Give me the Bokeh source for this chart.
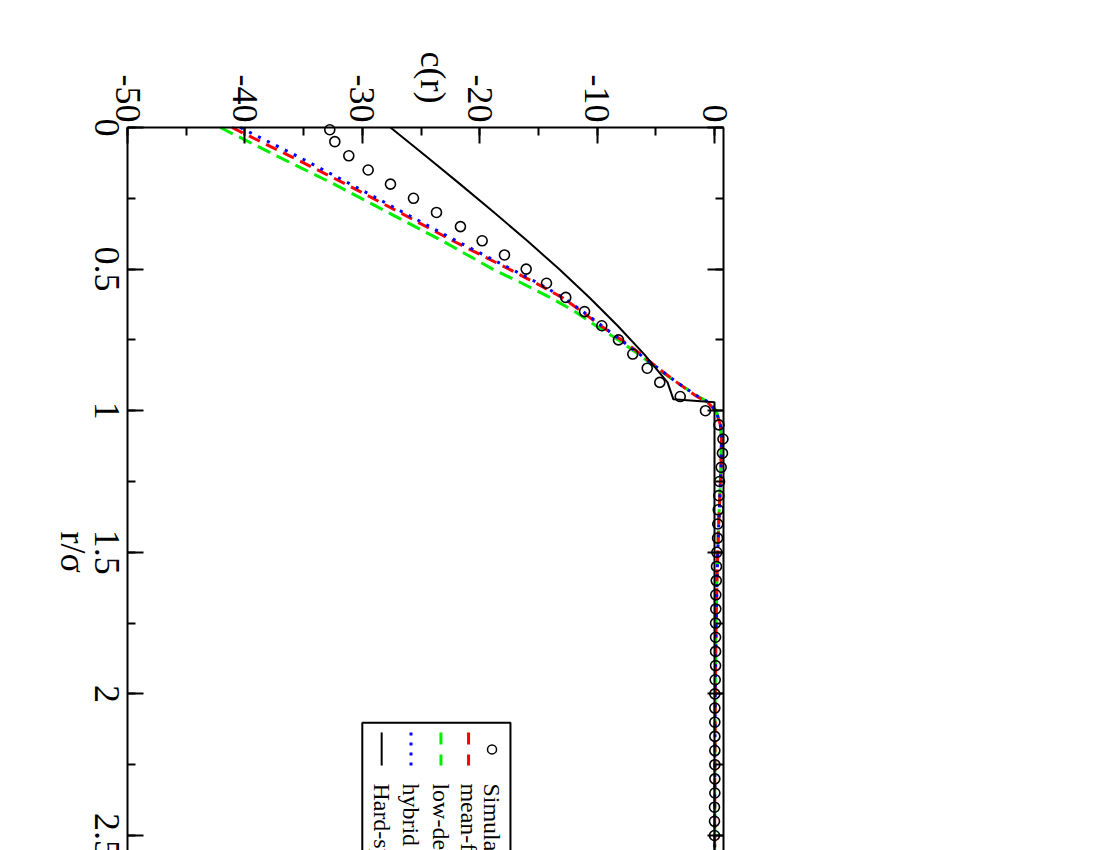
import math
from bokeh.plotting import figure
from bokeh.models import Range1d, LinearAxis, SingleIntervalTicker, CustomJSTickFormatter
from bokeh.core.properties import value
from bokeh.embed import file_html
from bokeh.resources import INLINE

# ---------------- data ----------------
sim_r = [0.008, 0.05, 0.10, 0.15, 0.20, 0.25, 0.30, 0.35, 0.40, 0.45, 0.50,
         0.55, 0.60, 0.65, 0.70, 0.75, 0.80, 0.85, 0.90, 0.95, 1.00,
         1.05, 1.10, 1.15, 1.20, 1.25, 1.30, 1.35, 1.40, 1.45, 1.50, 1.55,
         1.60, 1.65, 1.70, 1.75, 1.80, 1.85, 1.90, 1.95, 2.00, 2.05, 2.10,
         2.15, 2.20, 2.25, 2.30, 2.35, 2.40, 2.45, 2.50]
sim_c = [-32.77, -32.34, -31.15, -29.50, -27.60, -25.64, -23.68, -21.64, -19.79, -17.89, -16.04,
         -14.31, -12.67, -11.07, -9.60, -8.18, -6.96, -5.73, -4.66, -2.92, -0.77,
         0.38, 0.72, 0.68, 0.57, 0.43, 0.37, 0.32, 0.28, 0.26, 0.20, 0.17,
         0.15, 0.11, 0.11, 0.09, 0.09, 0.09, 0.09, 0.06, 0.03, 0.03, 0.03,
         0.03, 0.03, 0.03, 0.03, 0.03, 0.0, 0.0, 0.0]

th_r = [0.0, 0.1, 0.2, 0.3, 0.4, 0.5, 0.55, 0.6, 0.65, 0.7, 0.75, 0.8, 0.85, 0.9, 0.95, 0.97,
        1.0, 1.05, 1.1, 1.2, 1.3, 1.4, 1.5, 1.6, 1.8, 2.0, 2.2, 2.4, 2.6]
meanfield_c = [-41.1, -36.2, -31.4, -26.8, -22.3, -17.5, -15.2, -13.0, -11.3, -9.7, -7.9, -6.3, -4.8, -3.2, -1.5, -0.6,
               0.1, 0.5, 0.6, 0.55, 0.46, 0.36, 0.28, 0.21, 0.12, 0.07, 0.04, 0.02, 0.01]
lowdens_c = [-42.1, -37.3, -32.4, -27.8, -23.2, -18.9, -16.4, -14.0, -11.9, -10.1, -8.2, -6.5, -4.9, -3.2, -1.4, -0.5,
             0.15, 0.5, 0.58, 0.53, 0.45, 0.35, 0.27, 0.2, 0.11, 0.06, 0.03, 0.02, 0.01]
hybrid_c = [-40.4, -35.6, -31.0, -26.5, -22.0, -17.3, -15.0, -12.9, -11.2, -9.6, -8.0, -6.4, -4.8, -3.2, -1.4, -0.5,
            0.12, 0.5, 0.6, 0.55, 0.46, 0.36, 0.28, 0.21, 0.12, 0.07, 0.04, 0.02, 0.01]

hs_r = [0.0, 0.1, 0.2, 0.3, 0.4, 0.5, 0.6, 0.7, 0.8, 0.9, 0.96, 0.97, 1.5, 2.0, 2.6]
hs_c = [-27.6, -24.62, -21.67, -18.77, -15.95, -13.24, -10.66, -8.25, -6.0, -4.0, -3.5, 0.0, 0.0, 0.0, 0.0]

legend_labels = ["Simulation", "mean-field", "low-density", "hybrid", "Hard-sphere"]
y_tick_values = [0.0, 0.5, 1.0, 1.5, 2.0, 2.5]
y_tick_labels = ["0", "0.5", "1", "1.5", "2", "2.5"]
x_title = "r/σ"
y_title = "c(r)"

FONT = "Liberation Serif"
TICK_FS = "36px"

# plot box in data units: c from -50 to 0.77, r from 0 (top) downwards
C_MIN, C_MAX, R_MIN = -50.0, 0.77, 0.0
PX_PER_C, PX_PER_R = 11.74, 283.2
W, H, OX, OY = 1092, 850, 127, 127   # canvas size, position of the plot corner

x_start = C_MIN - OX / PX_PER_C
x_end = x_start + W / PX_PER_C
y_top = R_MIN - OY / PX_PER_R
y_bottom = y_top + H / PX_PER_R

p = figure(width=W, height=H,
           x_range=Range1d(x_start, x_end), y_range=Range1d(y_bottom, y_top),
           x_axis_type=None, y_axis_type=None,
           output_backend="svg", toolbar_location=None,
           min_border_left=0, min_border_top=0, min_border_right=0, min_border_bottom=0)
p.outline_line_color = None
p.grid.visible = False
p.background_fill_color = "white"
p.border_fill_color = "white"

xt = SingleIntervalTicker(interval=10, num_minor_ticks=2)
yt = SingleIntervalTicker(interval=0.5, num_minor_ticks=2)
num_fmt = CustomJSTickFormatter(code="return String(Number(tick.toFixed(3)));")
blank = CustomJSTickFormatter(code="return '';")

top_ax = LinearAxis(ticker=xt, formatter=num_fmt, fixed_location=R_MIN, bounds=(C_MIN, C_MAX))
left_ax = LinearAxis(ticker=yt, formatter=blank, fixed_location=C_MIN, bounds=(R_MIN, y_bottom))
right_ax = LinearAxis(ticker=yt, formatter=blank, fixed_location=C_MAX, bounds=(R_MIN, y_bottom))
p.add_layout(top_ax, "above")
p.add_layout(left_ax, "left")
p.add_layout(right_ax, "right")

for ax in [top_ax, left_ax, right_ax]:
    ax.axis_line_width = 2
    ax.axis_line_color = "black"
    ax.major_tick_line_width = 2
    ax.minor_tick_line_width = 2
    ax.major_tick_line_color = "black"
    ax.minor_tick_line_color = "black"
    ax.major_tick_in = 16
    ax.major_tick_out = 0
    ax.minor_tick_in = 8
    ax.minor_tick_out = 0
    ax.major_label_text_font = FONT
    ax.major_label_text_font_size = TICK_FS
    ax.major_label_text_color = "black"
    ax.major_label_orientation = -math.pi / 2
    ax.major_label_standoff = 5

# left tick labels (rotated like the reference)
p.text(x=[C_MIN - 1.75] * len(y_tick_values), y=y_tick_values, text=y_tick_labels,
       angle=-math.pi / 2, text_align="center", text_baseline="middle",
       text_font=value(FONT), text_font_size=TICK_FS, text_color="black")

# axis titles
p.text(x=[-23.95], y=[-0.1766], text=[y_title], angle=-math.pi / 2,
       text_align="center", text_baseline="middle",
       text_font=value(FONT), text_font_size=TICK_FS, text_color="black")
p.text(x=[-54.6], y=[1.5], text=[x_title], angle=-math.pi / 2,
       text_align="center", text_baseline="middle",
       text_font=value(FONT), text_font_size=TICK_FS, text_color="black")

# ---------------- data glyphs ----------------
p.line(lowdens_c, th_r, line_color="#00ee00", line_width=3, line_dash="14 7")
p.line(meanfield_c, th_r, line_color="#ff0000", line_width=3, line_dash="12 7")
p.line(hybrid_c, th_r, line_color="#0000ff", line_width=3, line_dash="3 7")
p.line(hs_c, hs_r, line_color="black", line_width=2)
p.scatter(sim_c, sim_r, marker="circle", size=10, fill_color=None, line_color="black", line_width=1.6)

# ---------------- legend (drawn rotated, like the reference) ----------------
p.quad(left=[-30.0], right=[-17.38], top=[2.102], bottom=[2.8],
       fill_color="white", line_color="black", line_width=2)
col_x = [-18.95, -20.95, -23.3, -25.85, -28.35]
y0, y1, ym, yt0 = 2.136, 2.253, 2.196, 2.316
p.scatter([col_x[0]], [ym], marker="circle", size=9, fill_color=None, line_color="black", line_width=1.5)
p.line([col_x[1], col_x[1]], [y0, y1], line_color="#ff0000", line_width=3, line_dash="12 10")
p.line([col_x[2], col_x[2]], [y0, y1], line_color="#00ee00", line_width=3, line_dash="12 10")
p.line([col_x[3], col_x[3]], [y0, y1], line_color="#0000ff", line_width=3, line_dash="3 7")
p.line([col_x[4], col_x[4]], [y0, y1], line_color="black", line_width=2)
p.text(x=col_x, y=[yt0] * 5, text=legend_labels, angle=-math.pi / 2,
       text_align="left", text_baseline="middle",
       text_font=value(FONT), text_font_size="24px", text_color="black")

open("out.html", "w").write(file_html(p, INLINE))
